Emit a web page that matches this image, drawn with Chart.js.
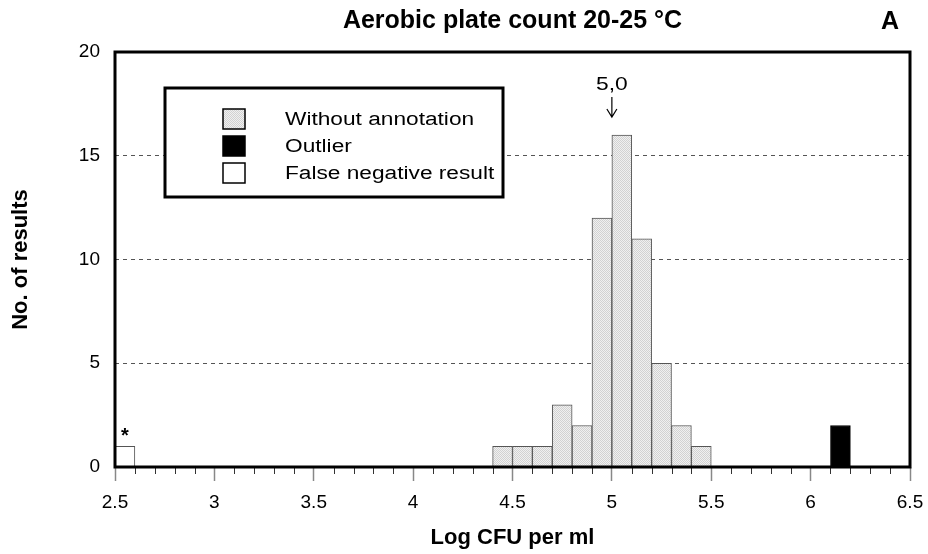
<!DOCTYPE html>
<html>
<head>
<meta charset="utf-8">
<script src="https://cdn.jsdelivr.net/npm/chart.js@4/dist/chart.umd.min.js"></script>
<style>
  html, body { margin: 0; padding: 0; background: #fff; }
  #wrap { width: 928px; height: 554px; }
</style>
</head>
<body>
<div id="wrap"><canvas id="myChart" width="928" height="554"></canvas></div>
<script>
// histogram bins (centre of each 0.1 log bin) and counts
const binCenters = [4.45, 4.55, 4.65, 4.75, 4.85, 4.95, 5.05, 5.15, 5.25, 5.35, 5.45];
const counts = [1, 1, 1, 3, 2, 12, 16, 11, 5, 2, 1];
const outlierCenters = [6.15];
const outlierCounts = [2];
const falseNegCenters = [2.55];
const falseNegCounts = [1];

const legendLabels = ["Without annotation", "Outlier", "False negative result"];
const medianValue = 5.0;
const medianLabel = "5,0";

const FONT = "'Liberation Sans', Arial, sans-serif";

function toPoints(xs, ys) {
  return xs.map((x, i) => ({ x: x, y: ys[i] }));
}

// fine stipple like the original grey fill
function makeStipple() {
  const c = document.createElement("canvas");
  c.width = 2;
  c.height = 2;
  const g = c.getContext("2d");
  g.fillStyle = "#f0f0f0";
  g.fillRect(0, 0, 2, 2);
  g.fillStyle = "#d2d2d2";
  g.fillRect(0, 0, 1, 1);
  g.fillRect(1, 1, 1, 1);
  return g.createPattern(c, "repeat");
}
const stipple = makeStipple();

function scaledText(ctx, text, x, y, sx) {
  ctx.save();
  ctx.translate(x, y);
  ctx.scale(sx, 1);
  ctx.fillText(text, 0, 0);
  ctx.restore();
}

const extras = {
  id: "extras",
  afterDatasetsDraw(chart) {
    const { ctx, chartArea: { left, right, top, bottom }, scales: { x, y } } = chart;
    ctx.save();

    // minor ticks every 0.1
    ctx.strokeStyle = "#333";
    ctx.lineWidth = 1;
    for (let i = 0; i <= 40; i++) {
      if (i % 5 === 0) continue;
      const px = Math.round(x.getPixelForValue(2.5 + i / 10)) + 0.5;
      ctx.beginPath();
      ctx.moveTo(px, bottom);
      ctx.lineTo(px, bottom + 7);
      ctx.stroke();
    }

    // frame
    ctx.strokeStyle = "#000";
    ctx.lineWidth = 3;
    ctx.strokeRect(left, top, right - left, bottom - top);

    // legend box
    const lx = 165, ly = 88, lw = 338, lh = 109;
    ctx.fillStyle = "#fff";
    ctx.fillRect(lx, ly, lw, lh);
    ctx.lineWidth = 3;
    ctx.strokeRect(lx, ly, lw, lh);
    const fills = [stipple, "#000", "#fff"];
    ctx.font = "18px " + FONT;
    ctx.textBaseline = "alphabetic";
    ctx.textAlign = "left";
    legendLabels.forEach((label, i) => {
      const ry = 109 + i * 27;
      ctx.fillStyle = fills[i];
      ctx.fillRect(223, ry, 22, 20);
      ctx.lineWidth = 1.5;
      ctx.strokeStyle = "#000";
      ctx.strokeRect(223, ry, 22, 20);
      ctx.fillStyle = "#000";
      scaledText(ctx, label, 285, ry + 16, 1.26);
    });

    // median marker
    const mx = x.getPixelForValue(medianValue);
    ctx.font = "19px " + FONT;
    ctx.textAlign = "center";
    ctx.fillStyle = "#000";
    scaledText(ctx, medianLabel, mx, 90, 1.2);
    ctx.strokeStyle = "#000";
    ctx.lineWidth = 1.2;
    ctx.beginPath();
    ctx.moveTo(mx, 97);
    ctx.lineTo(mx, 117);
    ctx.moveTo(mx - 5, 109);
    ctx.lineTo(mx, 117);
    ctx.lineTo(mx + 5, 109);
    ctx.stroke();

    // star over the false negative bar
    ctx.font = "bold 20px " + FONT;
    ctx.textBaseline = "middle";
    ctx.fillText("*", x.getPixelForValue(falseNegCenters[0]), y.getPixelForValue(falseNegCounts[0]) - 10);

    // panel letter
    ctx.font = "bold 25px " + FONT;
    ctx.fillText("A", 890, 22);

    ctx.restore();
  },
};

const ctx = document.getElementById("myChart");
new Chart(ctx, {
  type: "bar",
  data: {
    datasets: [
      {
        label: legendLabels[0],
        data: toPoints(binCenters, counts),
        backgroundColor: stipple,
        borderColor: "#555",
        borderWidth: 1,
        borderSkipped: "bottom",
      },
      {
        label: legendLabels[1],
        data: toPoints(outlierCenters, outlierCounts),
        backgroundColor: "#000",
        borderColor: "#000",
        borderWidth: 1,
        borderSkipped: "bottom",
      },
      {
        label: legendLabels[2],
        data: toPoints(falseNegCenters, falseNegCounts),
        backgroundColor: "#fff",
        borderColor: "#555",
        borderWidth: 1,
        borderSkipped: "bottom",
      },
    ],
  },
  options: {
    responsive: false,
    animation: false,
    grouped: false,
    barPercentage: 1,
    categoryPercentage: 1,
    layout: { padding: { left: 0, right: 18, top: 0, bottom: 0 } },
    plugins: {
      legend: { display: false },
      tooltip: { enabled: false },
      title: {
        display: true,
        fullSize: false,
        text: "Aerobic plate count 20-25 °C",
        color: "#000",
        font: { family: FONT, size: 25, weight: "bold" },
        padding: { top: 6, bottom: 16 },
      },
    },
    scales: {
      x: {
        type: "linear",
        min: 2.5,
        max: 6.5,
        offset: false,
        afterFit(scale) {
          scale.height = 87;
          scale.paddingLeft = 0;
          scale.paddingRight = 0;
        },
        ticks: {
          stepSize: 0.5,
          color: "#000",
          padding: 10,
          maxRotation: 0,
          font: { family: FONT, size: 19 },
          callback: (v) => String(v),
        },
        grid: {
          offset: false,
          drawOnChartArea: false,
          drawTicks: true,
          tickLength: 14,
          tickColor: "#888",
          tickWidth: 1.5,
        },
        border: { display: false },
        title: {
          display: true,
          text: "Log CFU per ml",
          color: "#000",
          font: { family: FONT, size: 22, weight: "bold" },
          padding: { top: 0, bottom: 3 },
        },
      },
      y: {
        min: 0,
        max: 20,
        afterFit(scale) {
          scale.width = 115;
        },
        ticks: {
          stepSize: 5,
          color: "#000",
          padding: 15,
          font: { family: FONT, size: 19 },
        },
        grid: {
          drawTicks: false,
          color: (c) => (c.tick && c.tick.value > 0 && c.tick.value < 20 ? "#555" : "rgba(0,0,0,0)"),
          lineWidth: 1,
        },
        border: { display: false, dash: [4, 4] },
        title: {
          display: true,
          text: "No. of results",
          color: "#000",
          font: { family: FONT, size: 22, weight: "bold" },
          padding: { top: 8, bottom: 0 },
        },
      },
    },
  },
  plugins: [extras],
});
</script>
</body>
</html>
